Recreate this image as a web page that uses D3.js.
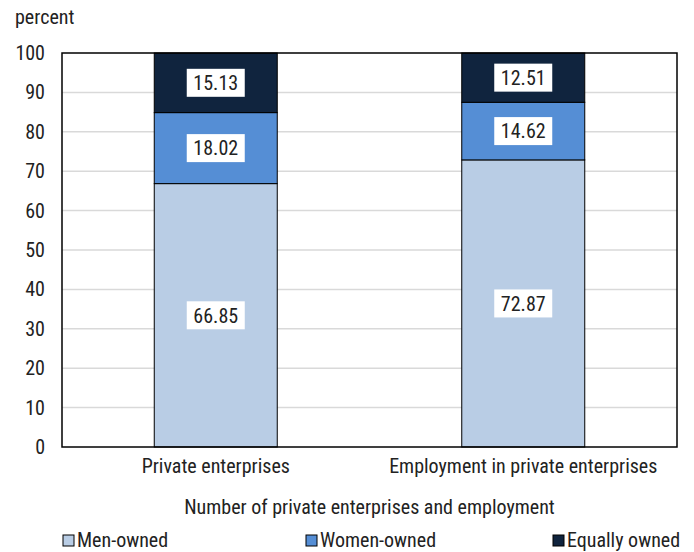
<!DOCTYPE html>
<html><head><meta charset="utf-8">
<script src="https://cdn.jsdelivr.net/npm/d3@7"></script>
<style>
body{margin:0;background:#fff;}
text{font-family:"Liberation Sans Narrow","Arial Narrow","Roboto Condensed","Liberation Sans",sans-serif;fill:#222;}
</style></head>
<body><svg id="c" width="694" height="552"></svg>
<script>
const categories = ["Private enterprises", "Employment in private enterprises"];
const seriesNames = ["Men-owned", "Women-owned", "Equally owned"];
const menOwned = [66.85, 72.87];
const womenOwned = [18.02, 14.62];
const equallyOwned = [15.13, 12.51];
const yTicks = [0,10,20,30,40,50,60,70,80,90,100];
const colors = ["#B9CDE5", "#558ED5", "#10243E"];

const FS = 20;
const FF = '"Liberation Sans Narrow","Arial Narrow","Roboto Condensed",sans-serif';
const svg = d3.select("#c");
const m = {l:62, r:17, t:53, b:105};
const W = 694, H = 552;
const x = d3.scaleBand().domain(categories).range([m.l, W-m.r]).paddingInner(0.6).paddingOuter(0.3);
const y = d3.scaleLinear().domain([0,100]).range([H-m.b, m.t]);

const data = categories.map((c,i)=>({cat:c, "Men-owned":menOwned[i], "Women-owned":womenOwned[i], "Equally owned":equallyOwned[i]}));
const stacked = d3.stack().keys(seriesNames)(data);

// gridlines
svg.append("g").selectAll("line").data(yTicks.filter(d=>d>0&&d<100)).join("line")
  .attr("x1", m.l).attr("x2", W-m.r).attr("y1", d=>y(d)).attr("y2", d=>y(d))
  .attr("stroke","#d9d9d9").attr("stroke-width",1.5);

// bars
stacked.forEach((s,si)=>{
  svg.append("g").selectAll("rect").data(s).join("rect")
    .attr("x", d=>x(d.data.cat)).attr("width", x.bandwidth())
    .attr("y", d=>y(d[1])).attr("height", d=>y(d[0])-y(d[1]))
    .attr("fill", colors[si]).attr("stroke","#000").attr("stroke-width",1);
});

// labels
stacked.forEach((s,si)=>{
  const g = svg.append("g");
  s.forEach(d=>{
    const cx = x(d.data.cat)+x.bandwidth()/2;
    const cy = (y(d[0])+y(d[1]))/2;
    const v = d[1]-d[0];
    g.append("rect").attr("x", cx-29).attr("y", cy-14).attr("width",58).attr("height",28).attr("fill","#fff");
    g.append("text").attr("x",cx).attr("y",cy).attr("dy","0.36em").attr("text-anchor","middle")
      .attr("font-size",FS).text(v.toFixed(2));
  });
});

// frame
svg.append("rect").attr("x",m.l).attr("y",m.t).attr("width",W-m.r-m.l).attr("height",H-m.b-m.t)
  .attr("fill","none").attr("stroke","#000").attr("stroke-width",1.5);

// y axis
const ya = svg.append("g").attr("transform",`translate(${m.l},0)`)
  .call(d3.axisLeft(y).tickValues(yTicks).tickSize(0).tickPadding(17));
ya.select(".domain").remove();
ya.selectAll("text").attr("font-size",FS).attr("fill","#222").style("font-family",FF);

// x axis
const xa = svg.append("g").attr("transform",`translate(0,${H-m.b})`)
  .call(d3.axisBottom(x).tickSize(0).tickPadding(12));
xa.select(".domain").remove();
xa.selectAll("text").attr("font-size",FS).attr("fill","#222").style("font-family",FF);

svg.append("text").attr("x",15).attr("y",24).attr("font-size",FS).text("percent");
svg.append("text").attr("x",(m.l+W-m.r)/2).attr("y",514).attr("text-anchor","middle").attr("font-size",FS)
  .text("Number of private enterprises and employment");

// legend
const lx = [62, 305, 552];
seriesNames.forEach((n,i)=>{
  svg.append("rect").attr("x",lx[i]+1).attr("y",535).attr("width",11).attr("height",11)
    .attr("fill",colors[i]).attr("stroke","#000").attr("stroke-width",1);
  svg.append("text").attr("x",lx[i]+15).attr("y",547).attr("font-size",FS).text(n);
});
</script></body></html>
